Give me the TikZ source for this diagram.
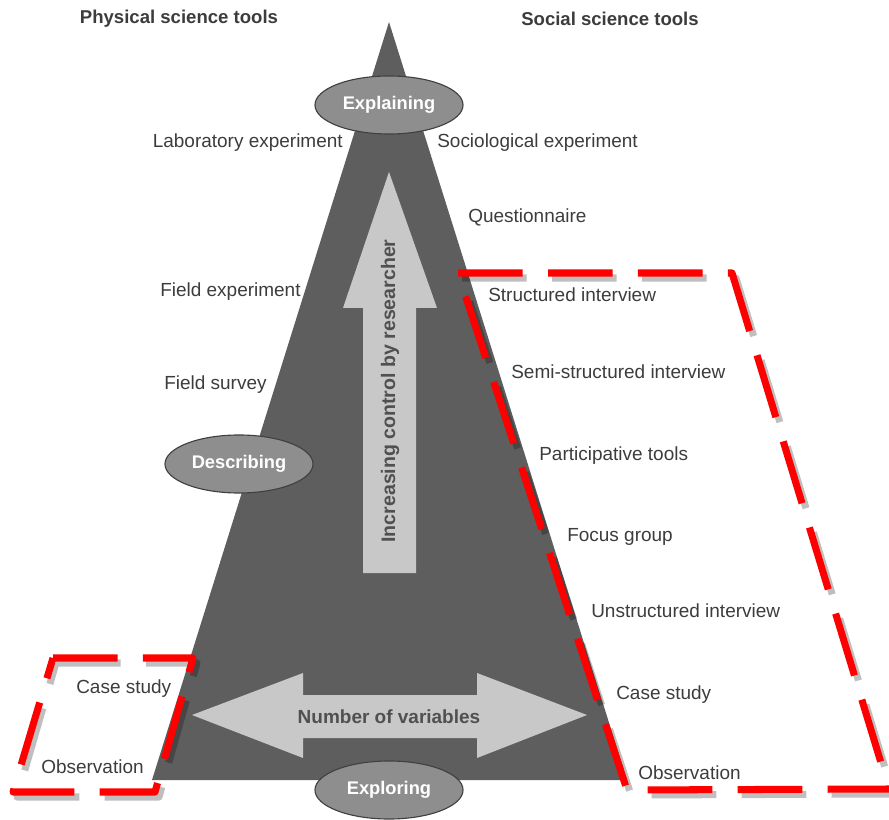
\documentclass[tikz,border=0pt]{standalone}
\usepackage{fontspec}
\setmainfont{Liberation Sans}
\usetikzlibrary{shapes.geometric}

\definecolor{pyramid}{HTML}{5E5E5E}
\definecolor{stagegray}{HTML}{8E8E8E}
\definecolor{pale}{HTML}{C8C8C8}
\definecolor{ink}{HTML}{3C3C3C}
\definecolor{arrowink}{HTML}{505050}

\begin{document}
\begin{tikzpicture}[x=0.025cm,y=-0.025cm,
  tool/.style={font=\fontsize{13.5}{16}\selectfont,text=ink,inner sep=0pt,text height=1.6ex,text depth=0.35ex},
  heading/.style={font=\bfseries\fontsize{13.2}{16}\selectfont,text=ink,inner sep=0pt},
  stage/.style={ellipse,draw=black!75,thick,fill=stagegray,minimum width=3.7cm,minimum height=1.45cm,inner sep=0pt,text=white,font=\bfseries\fontsize{13}{16}\selectfont},
  group/.style={draw=red,line width=5pt,dash pattern=on 46pt off 18pt,line join=round},
  groupshadow/.style={draw=black,opacity=0.25,line width=5pt,dash pattern=on 46pt off 18pt,line join=round}]
\useasboundingbox (0,0) rectangle (889,820);

% pyramid
\fill[pyramid] (389,22) -- (627,780) -- (152,780) -- cycle;

% control arrow (up)
\fill[pale] (363,573) -- (363,308) -- (343,308) -- (389,172) -- (437,308) -- (416,308) -- (416,573) -- cycle;
\node[rotate=90,font=\bfseries\fontsize{13.9}{16}\selectfont,text=arrowink] (control) at (390,391) {Increasing control by researcher};

% variables arrow (both ways)
\fill[pale] (192,715) -- (303,673) -- (303,695) -- (477,695) -- (477,673) -- (587,715) -- (477,758) -- (477,738) -- (303,738) -- (303,758) -- cycle;
\node[font=\bfseries\fontsize{13.5}{16}\selectfont,text=arrowink] (variables) at (389,717) {Number of variables};

% stages
\node[stage] (explaining) at (389,105) {Explaining};
\node[stage] (describing) at (239,464) {Describing};
\node[stage] (exploring) at (389,790) {Exploring};

% column headings
\node[heading] (physical) at (179,19) {Physical science tools};
\node[heading] (social) at (610,19) {Social science tools};

% physical science side
\node[tool,anchor=east] (lab) at (343,143) {Laboratory experiment};
\node[tool,anchor=west] (fieldexp) at (160,292) {Field experiment};
\node[tool,anchor=west] (fieldsurv) at (164,385) {Field survey};
\node[tool,anchor=west] (casel) at (76,689) {Case study};
\node[tool,anchor=west] (obsl) at (41,769) {Observation};

% social science side
\node[tool,anchor=west] (socio) at (437,143) {Sociological experiment};
\node[tool,anchor=west] (quest) at (468,218) {Questionnaire};
\node[tool,anchor=west] (struct) at (488,297) {Structured interview};
\node[tool,anchor=west] (semi) at (511,374) {Semi-structured interview};
\node[tool,anchor=west] (partic) at (539,456) {Participative tools};
\node[tool,anchor=west] (focus) at (567,537) {Focus group};
\node[tool,anchor=west] (unstruct) at (591,613) {Unstructured interview};
\node[tool,anchor=west] (caser) at (616,695) {Case study};
\node[tool,anchor=west] (obsr) at (638,775) {Observation};

% dashed groups with soft shadow
\draw[groupshadow] (56,663) -- (197,663) -- (159,797) -- (17,797) -- cycle;
\draw[groupshadow] (462,278) -- (736,278) -- (893,794) -- (631,795) -- cycle;
\draw[group] (53,658) -- (193,658) -- (155,792) -- (13,792) -- cycle;
\draw[group] (458,273) -- (732,273) -- (889,789) -- (627,790) -- cycle;
\end{tikzpicture}
\end{document}
